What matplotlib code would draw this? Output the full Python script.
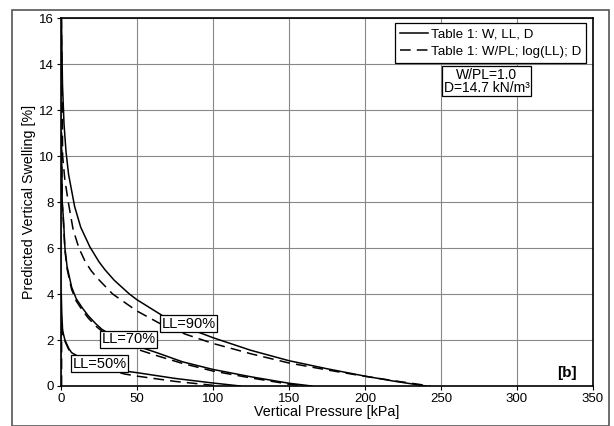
import matplotlib
matplotlib.use("Agg")
import matplotlib.pyplot as plt
from matplotlib.patches import Rectangle

plt.rcParams['font.family'] = ['Liberation Sans', 'DejaVu Sans']

# values (pressure kPa, swelling %)
ll90_p = [0.3, 1, 2, 3.3, 5, 9, 13, 19, 25, 29, 35, 45, 50, 67, 80, 100, 125, 150, 175, 200, 220, 240]
ll90_s = [16, 13.1, 11.4, 10.2, 9.2, 7.8, 6.9, 6.05, 5.4, 5.05, 4.6, 4.0, 3.75, 3.05, 2.6, 2.1, 1.55, 1.1, 0.75, 0.43, 0.2, 0]
ll90_pd = [0.3, 1.1, 2.5, 4.8, 8, 11.8, 16, 20, 24.5, 34, 50, 65, 82, 100, 125, 150, 175, 200, 220, 243]
ll90_sd = [16, 10, 9, 8, 6.8, 6.0, 5.4, 5.0, 4.65, 4.0, 3.26, 2.72, 2.25, 1.85, 1.4, 1.0, 0.7, 0.42, 0.22, 0]

ll70_p = [0.3, 0.8, 1.7, 2.6, 4, 7, 10, 14, 18, 23, 27, 35, 50, 63, 80, 100, 125, 150, 165]
ll70_s = [11, 8, 7.2, 6.0, 5.2, 4.3, 3.8, 3.4, 3.05, 2.7, 2.46, 2.15, 1.74, 1.45, 1.05, 0.72, 0.4, 0.12, 0]
ll70_pd = [0.3, 0.8, 1.7, 2.6, 4, 7, 10, 14, 18, 23, 27, 35, 50, 63, 80, 100, 125, 150, 160]
ll70_sd = [11, 8, 7.0, 5.9, 5.1, 4.2, 3.7, 3.3, 2.95, 2.6, 2.38, 2.05, 1.6, 1.32, 0.98, 0.65, 0.35, 0.08, 0]

ll50_p = [0.2, 0.5, 1.1, 2.6, 5, 7, 11, 20, 30, 42, 50, 75, 100, 118]
ll50_s = [4.0, 3.2, 2.4, 2.0, 1.65, 1.45, 1.3, 1.05, 0.85, 0.65, 0.58, 0.33, 0.13, 0]
ll50_pd = [0.4, 0.4, 1.1, 2.6, 5, 7, 11, 20, 30, 42, 50, 75, 100, 105]
ll50_sd = [0, 2.8, 2.3, 1.95, 1.6, 1.4, 1.25, 0.95, 0.72, 0.52, 0.43, 0.2, 0.03, 0]

labels = ["LL=90%", "LL=70%", "LL=50%"]
label_xy = [(84, 2.70), (44.5, 2.04), (25.5, 0.96)]

fig = plt.figure(figsize=(6.14, 4.26), dpi=100)
ax = fig.add_axes([0.0993, 0.0939, 0.8665, 0.8638])

# outer frame around the whole chart
fig.patches.append(Rectangle((12 / 614, 0.0), 597 / 614, 416 / 426, transform=fig.transFigure,
                             fill=False, edgecolor='#555555', linewidth=1.2))

dash = (0, (7, 4))
ax.plot(ll90_p, ll90_s, color='black', lw=1.1, label='Table 1: W, LL, D')
ax.plot(ll90_pd, ll90_sd, color='black', lw=1.1, linestyle=dash, label='Table 1: W/PL; log(LL); D')
ax.plot(ll70_p, ll70_s, color='black', lw=1.1)
ax.plot(ll70_pd, ll70_sd, color='black', lw=1.1, linestyle=dash)
ax.plot(ll50_p, ll50_s, color='black', lw=1.1)
ax.plot(ll50_pd, ll50_sd, color='black', lw=1.1, linestyle=dash)

for txt, (x, y) in zip(labels, label_xy):
    ax.text(x, y, txt, ha='center', va='center', fontsize=10.5,
            bbox=dict(boxstyle='square,pad=0.1', facecolor='white', edgecolor='black', linewidth=0.9))

ax.text(280, 13.25, "W/PL=1.0\nD=14.7 kN/m³", ha='center', va='center', fontsize=10,
        linespacing=0.95,
        bbox=dict(boxstyle='square,pad=0.1', facecolor='white', edgecolor='black', linewidth=0.9))
ax.text(339, 0.55, "[b]", ha='right', va='center', fontsize=11, fontweight='bold')

ax.set_xlim(0, 350)
ax.set_ylim(0, 16)
ax.set_xticks(range(0, 351, 50))
ax.set_yticks(range(0, 17, 2))
ax.grid(True, color='#888888', linewidth=0.8)
ax.set_axisbelow(True)
ax.tick_params(direction='out', length=3, labelsize=9.5, pad=2)
for s in ax.spines.values():
    s.set_linewidth(1.2)
ax.set_xlabel("Vertical Pressure [kPa]", fontsize=10.3, labelpad=0)
ax.set_ylabel("Predicted Vertical Swelling [%]", fontsize=10.3, labelpad=2)

leg = ax.legend(loc='upper right', fontsize=9.6, fancybox=False, framealpha=1,
                edgecolor='black', handlelength=2.1, borderpad=0.4, labelspacing=0.35,
                handletextpad=0.2, borderaxespad=0, bbox_to_anchor=(0.987, 0.986))
leg.get_frame().set_linewidth(0.9)

fig.savefig("out.png", dpi=100)
